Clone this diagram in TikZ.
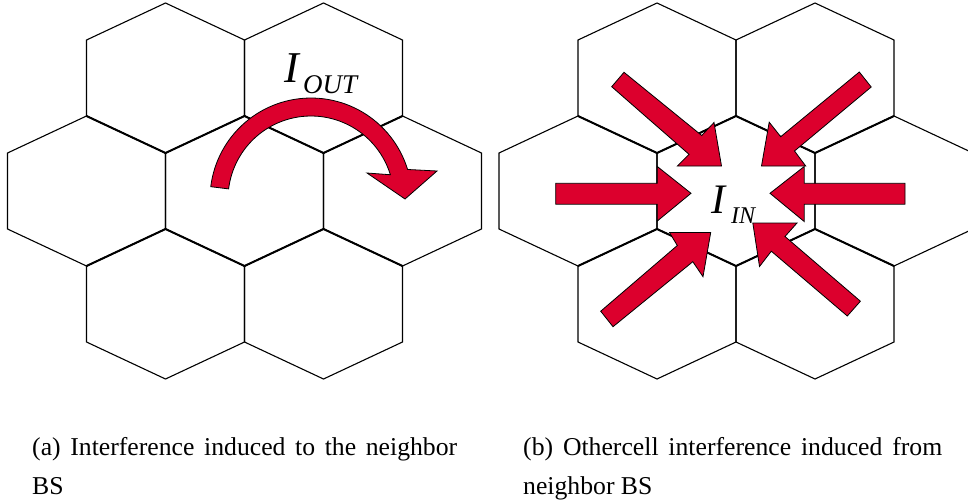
\documentclass[tikz,border=0pt]{standalone}
\usepackage{fontspec}
\setmainfont{Liberation Serif}
\usetikzlibrary{calc}
\definecolor{arrowred}{RGB}{220,0,45}
\tikzset{
  cell/.style={draw=black, line width=1.1pt, line join=miter},
  seam/.style={draw=black, line width=2pt, line join=miter},
  redarrow/.style={fill=arrowred, draw=black, line width=0.8pt, line join=miter},
  caption/.style={anchor=base west, inner sep=0pt, font=\fontsize{25.7}{30}\selectfont},
  biglabel/.style={anchor=base west, inner sep=0pt},
}
\newcommand\hexcell[2]{\draw[cell] (#1,#2-75) -- (#1+79,#2-38) -- (#1+79,#2+38) -- (#1,#2+75) -- (#1-79,#2+38) -- (#1-79,#2-38) -- cycle;}
\begin{document}
\begin{tikzpicture}[x=1pt,y=-1pt]
\useasboundingbox (0,0) rectangle (968,501);
\clip (0,0) rectangle (968,501);
% left panel cells
\foreach \cx/\cy in {165.5/78, 323.5/78, 86.5/191, 244.5/191, 402.5/191, 165.5/304, 323.5/304} {\hexcell{\cx}{\cy}}
\draw[seam] (86.5,116) -- (165.5,153) -- (244.5,116) -- (323.5,153) -- (402.5,116);
\draw[seam] (86.5,266) -- (165.5,229) -- (244.5,266) -- (323.5,229) -- (402.5,266);
% right panel cells
\foreach \cx/\cy in {657/78, 815/78, 578/191, 736/191, 894/191, 657/304, 815/304} {\hexcell{\cx}{\cy}}
\draw[seam] (578,116) -- (657,153) -- (736,116) -- (815,153) -- (894,116);
\draw[seam] (578,266) -- (657,229) -- (736,266) -- (815,229) -- (894,266);
% curved arrow (left)
\filldraw[redarrow] plot[domain=187:343, samples=60] ({311+101*cos(\x)},{199+101*sin(\x)})
  -- (437,171) -- (405,199) -- (367,173)
  -- plot[domain=343:187, samples=60] ({311+83*cos(\x)},{199+83*sin(\x)}) -- cycle;
% straight arrows (right)
\filldraw[redarrow] (624,72.3) -- (701.7,135.5) -- (714,122.5) -- (721.5,166) -- (677.3,166) -- (689,154.3) -- (611.7,86.7) -- cycle;
\filldraw[redarrow] (859.3,72) -- (780.7,136.7) -- (769.2,122.2) -- (761.5,166) -- (805.7,166) -- (794.5,151) -- (871.2,87) -- cycle;
\filldraw[redarrow] (555.7,183.3) -- (657.3,183.3) -- (657.3,166.5) -- (691,193.3) -- (657.3,221) -- (657.3,204.2) -- (555.7,204.2) -- cycle;
\filldraw[redarrow] (905,183.3) -- (804.2,183.3) -- (804.2,166.5) -- (770,193.3) -- (804.2,221.5) -- (804.2,204.2) -- (905,204.2) -- cycle;
\filldraw[redarrow] (600.7,311.2) -- (677.3,245.5) -- (669.5,232.5) -- (710.7,232.5) -- (703,276.7) -- (692.8,261.7) -- (613,326.7) -- cycle;
\filldraw[redarrow] (860.4,301.2) -- (785,236.5) -- (797,223) -- (752.8,223) -- (759.5,266.5) -- (771.3,251.2) -- (847.3,316) -- cycle;
% labels
\node[biglabel, font=\fontsize{44}{44}\selectfont\itshape] (iout) at (284,82) {I};
\node[biglabel, font=\fontsize{27}{27}\selectfont\itshape] (ioutsub) at (303,93) {OUT};
\node[biglabel, font=\fontsize{42}{42}\selectfont\itshape] (iin) at (711,213) {I};
\node[biglabel, font=\fontsize{24}{24}\selectfont\itshape] (iinsub) at (731,223) {IN};
% captions
\node[caption] (capa1) at (32,455) {\makebox[425pt][s]{(a) Interference induced to the neighbor}};
\node[caption] (capa2) at (32,494) {BS};
\node[caption] (capb1) at (523,455) {\makebox[419pt][s]{(b) Othercell interference induced from}};
\node[caption] (capb2) at (523,494) {neighbor BS};
\end{tikzpicture}
\end{document}
